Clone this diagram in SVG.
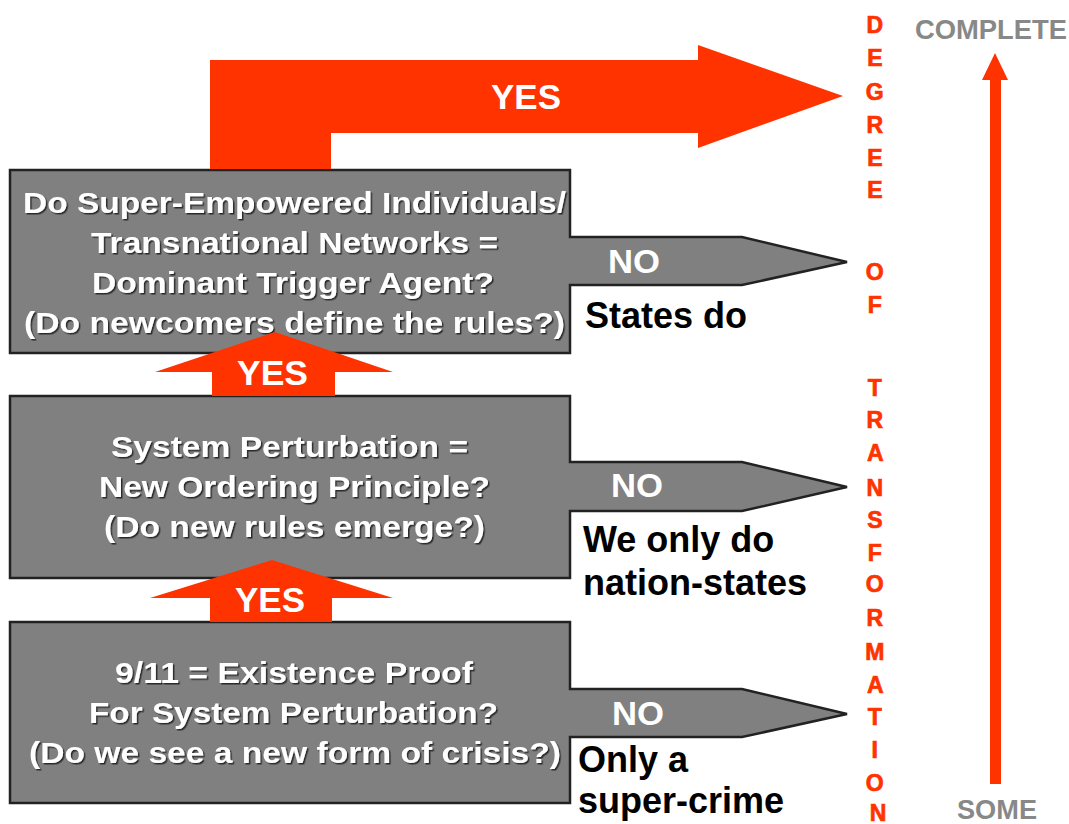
<svg xmlns="http://www.w3.org/2000/svg" width="1069" height="824" viewBox="0 0 1069 824">
<defs>
<style>
.box{fill:#808080;stroke:#222;stroke-width:2.5;stroke-linejoin:miter}
.bt{font-family:"Liberation Sans",Arial,sans-serif;font-weight:bold;font-size:30px;fill:#fff;text-anchor:middle;filter:url(#emb)}
.no{font-family:"Liberation Sans",Arial,sans-serif;font-weight:bold;font-size:34px;fill:#fff}
.ans{font-family:"Liberation Sans",Arial,sans-serif;font-weight:bold;font-size:36px;fill:#000}
.yes{font-family:"Liberation Sans",Arial,sans-serif;font-weight:bold;font-size:35px;fill:#fff;text-anchor:middle}
.arr{fill:#FF3300}
.dot{font-family:"Liberation Sans",Arial,sans-serif;font-weight:bold;font-size:23px;fill:#FF3300;stroke:#FF3300;stroke-width:0.7;text-anchor:middle}
.scale{font-family:"Liberation Sans",Arial,sans-serif;font-weight:bold;font-size:27px;fill:#888}
</style>
<filter id="emb" x="-5%" y="-20%" width="110%" height="140%">
<feDropShadow dx="1.5" dy="1.5" stdDeviation="0" flood-color="#2a2a2a" flood-opacity="1"/>
</filter>
</defs>
<rect width="1069" height="824" fill="#fff"/>

<g id="node-top">
<path class="box" d="M10,170 H570 V237 H742 L847,262 L742,285 H570 V353 H10 Z"/>
<text class="bt" x="294.5" y="213" textLength="543" lengthAdjust="spacingAndGlyphs">Do Super-Empowered Individuals/</text>
<text class="bt" x="294.5" y="253" textLength="407" lengthAdjust="spacingAndGlyphs">Transnational Networks =</text>
<text class="bt" x="293" y="293" textLength="402" lengthAdjust="spacingAndGlyphs">Dominant Trigger Agent?</text>
<text class="bt" x="294.5" y="333" textLength="541" lengthAdjust="spacingAndGlyphs">(Do newcomers define the rules?)</text>
<text class="no" x="608" y="273" textLength="52" lengthAdjust="spacingAndGlyphs">NO</text>
<text class="ans" x="585" y="328">States do</text>
</g>

<g id="node-middle">
<path class="box" d="M10,396 H570 V462 H742 L847,487 L742,511 H570 V578 H10 Z"/>
<text class="bt" x="289.5" y="457" textLength="357" lengthAdjust="spacingAndGlyphs">System Perturbation =</text>
<text class="bt" x="294.5" y="497" textLength="391" lengthAdjust="spacingAndGlyphs">New Ordering Principle?</text>
<text class="bt" x="294.5" y="537" textLength="381" lengthAdjust="spacingAndGlyphs">(Do new rules emerge?)</text>
<text class="no" x="611" y="497" textLength="52" lengthAdjust="spacingAndGlyphs">NO</text>
<text class="ans" x="583" y="552">We only do</text>
<text class="ans" x="583" y="595">nation-states</text>
</g>

<g id="node-bottom">
<path class="box" d="M10,622 H570 V689 H742 L847,714 L742,737 H570 V803 H10 Z"/>
<text class="bt" x="294" y="683" textLength="358" lengthAdjust="spacingAndGlyphs">9/11 = Existence Proof</text>
<text class="bt" x="293.5" y="723" textLength="409" lengthAdjust="spacingAndGlyphs">For System Perturbation?</text>
<text class="bt" x="295" y="763" textLength="532" lengthAdjust="spacingAndGlyphs">(Do we see a new form of crisis?)</text>
<text class="no" x="612" y="725" textLength="52" lengthAdjust="spacingAndGlyphs">NO</text>
<text class="ans" x="578" y="772">Only a</text>
<text class="ans" x="578" y="813">super-crime</text>
</g>

<g id="connectors">
<polygon class="arr" points="210,169 210,60 698,60 698,45 843,96 698,148 698,133 331,133 331,169"/>
<text class="yes" x="526" y="109" textLength="70" lengthAdjust="spacingAndGlyphs">YES</text>
<polygon class="arr" points="212,396 212,372 155,372 275,332 393,372 335,372 335,396"/>
<text class="yes" x="272.5" y="385" textLength="71" lengthAdjust="spacingAndGlyphs">YES</text>
<polygon class="arr" points="210,622 210,598 150,598 272,560 393,598 332,598 332,622"/>
<text class="yes" x="270" y="612" textLength="70" lengthAdjust="spacingAndGlyphs">YES</text>
</g>

<g id="scale">
<text class="dot">
<tspan x="878" y="33">D</tspan>
<tspan x="878" y="66">E</tspan>
<tspan x="878" y="100">G</tspan>
<tspan x="878" y="133">R</tspan>
<tspan x="878" y="166">E</tspan>
<tspan x="878" y="198">E</tspan>
<tspan x="878" y="280">O</tspan>
<tspan x="878" y="313">F</tspan>
<tspan x="878" y="396">T</tspan>
<tspan x="878" y="428">R</tspan>
<tspan x="878" y="461">A</tspan>
<tspan x="878" y="496">N</tspan>
<tspan x="878" y="528">S</tspan>
<tspan x="878" y="561">F</tspan>
<tspan x="878" y="592">O</tspan>
<tspan x="878" y="626">R</tspan>
<tspan x="878" y="660">M</tspan>
<tspan x="878" y="693">A</tspan>
<tspan x="878" y="725">T</tspan>
<tspan x="878" y="758">I</tspan>
<tspan x="878" y="791">O</tspan>
<tspan x="878" y="821">N</tspan>
</text>
<text class="scale" x="915" y="39" textLength="152" lengthAdjust="spacingAndGlyphs">COMPLETE</text>
<polygon class="arr" points="990,784 990,80 982,80 995,53 1008,80 1001,80 1001,784"/>
<text class="scale" x="957" y="819" textLength="80" lengthAdjust="spacingAndGlyphs">SOME</text>
</g>
</svg>
